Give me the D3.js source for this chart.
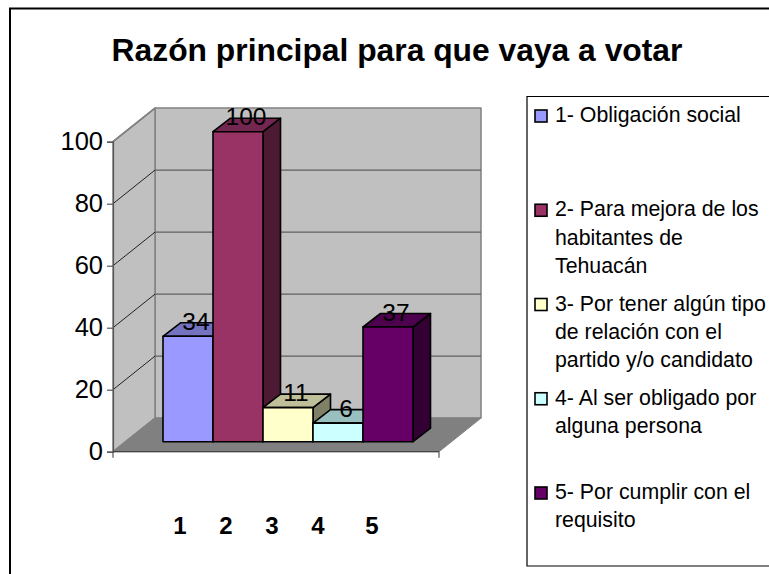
<!DOCTYPE html>
<html><head><meta charset="utf-8">
<script src="https://cdn.jsdelivr.net/npm/d3@7/dist/d3.min.js"></script>
<style>html,body{margin:0;padding:0;background:#fff;overflow:hidden}svg{display:block}text{font-family:"Liberation Sans",Arial,sans-serif;fill:#000}</style>
</head><body><svg id="c" width="769" height="574"></svg>
<script>
const titleText = "Razón principal para que vaya a votar";
const categories = ["1","2","3","4","5"];
const values = [34,100,11,6,37];
const yTicks = [0,20,40,60,80,100];
const legendLines = [
  ["1- Obligación social"],
  ["2- Para mejora de los","habitantes de","Tehuacán"],
  ["3- Por tener algún tipo","de relación con el","partido y/o candidato"],
  ["4- Al ser obligado por","alguna persona"],
  ["5- Por cumplir con el","requisito"]
];
const barColors = ["#9999ff","#993366","#ffffcc","#ccffff","#660066"];
const topColors = ["#7373bf","#732650","#bfbf99","#99bfbf","#4d004d"];
const sideColors = ["#4d4d80","#4d1a33","#808066","#668080","#330033"];

const svg = d3.select("#c");
// frame
svg.append("path").attr("d","M10,574V8.5H769").attr("fill","none").attr("stroke","#000").attr("stroke-width",2);
svg.append("text").attr("x",397).attr("y",60.5).attr("text-anchor","middle").attr("font-weight","bold").attr("font-size",31.8).text(titleText);

// 3D frame
const x0=113,x1=439,depthX=42,depthY=33.6;
const y=d3.scaleLinear().domain([0,100]).range([451.7,141.7]);
const bx=d3.scaleBand().domain(categories).range([163,413]).padding(0);
const barBase=441.7, barDX=17.5, barDY=13.5;
const barY=v=>barBase-(y(0)-y(v));

const poly=(pts,fill,stroke,sw)=>svg.append("polygon").attr("points",pts.map(p=>p.join(",")).join(" ")).attr("fill",fill).attr("stroke",stroke||"none").attr("stroke-width",sw||0).attr("stroke-linejoin","round");
// back wall, side wall, floor
poly([[x0+depthX,y(100)-depthY],[x1+depthX,y(100)-depthY],[x1+depthX,y(0)-depthY],[x0+depthX,y(0)-depthY]],"#c0c0c0","#808080",1.5);
poly([[x0,y(100)],[x0+depthX,y(100)-depthY],[x0+depthX,y(0)-depthY],[x0,y(0)]],"#c0c0c0","#808080",1.5);
poly([[x0,y(0)],[x0+depthX,y(0)-depthY],[x1+depthX,y(0)-depthY],[x1,y(0)]],"#808080","#808080",1);
// gridlines
const gt=yTicks.filter(t=>t>0);
svg.selectAll(".gb").data(gt.filter(t=>t<100)).join("line").attr("x1",x0+depthX).attr("x2",x1+depthX).attr("y1",d=>y(d)-depthY).attr("y2",d=>y(d)-depthY).attr("stroke","#606060").attr("stroke-width",1.4);
svg.selectAll(".gs").data(gt.filter(t=>t<100)).join("line").attr("x1",x0).attr("x2",x0+depthX).attr("y1",d=>y(d)).attr("y2",d=>y(d)-depthY).attr("stroke","#222").attr("stroke-width",1);
svg.append("line").attr("x1",x0).attr("x2",x0+depthX).attr("y1",y(100)).attr("y2",y(100)-depthY).attr("stroke","#808080").attr("stroke-width",1.5);
// axes
const yAxis=d3.axisLeft(y).tickValues(yTicks).tickSize(6).tickPadding(4);
const gy=svg.append("g").attr("transform",`translate(${x0},0)`).call(yAxis);
gy.selectAll("path,line").attr("stroke","#555").attr("stroke-width",1.2);
gy.selectAll("text").attr("font-size",25.5).attr("font-family",'"Liberation Sans"').attr("fill","#000");
svg.append("line").attr("x1",x0).attr("x2",x1).attr("y1",y(0)).attr("y2",y(0)).attr("stroke","#444").attr("stroke-width",1.2);
svg.selectAll(".t").data([x0,x1]).join("line").attr("x1",d=>d).attr("x2",d=>d).attr("y1",y(0)).attr("y2",y(0)+6).attr("stroke","#555").attr("stroke-width",1.2);

// bars
const data=categories.map((c,i)=>({c,v:values[i],i}));
const gb=svg.append("g");
data.forEach(d=>{
  const l=bx(d.c),r=l+bx.bandwidth(),t=barY(d.v);
  const g=gb.append("g").attr("stroke","#000").attr("stroke-width",1.6).attr("stroke-linejoin","round");
  const pg=(pts,f)=>g.append("polygon").attr("points",pts.map(p=>p.join(",")).join(" ")).attr("fill",f);
  pg([[r,t],[r+barDX,t-barDY],[r+barDX,barBase-barDY],[r,barBase]],sideColors[d.i]);
  pg([[l,t],[l+barDX,t-barDY],[r+barDX,t-barDY],[r,t]],topColors[d.i]);
  pg([[l,t],[r,t],[r,barBase],[l,barBase]],barColors[d.i]);
});
// value labels
svg.selectAll(".v").data(data).join("text").attr("text-anchor","middle").attr("font-size",24.5).attr("fill","#111")
  .attr("x",d=>bx(d.c)+bx.bandwidth()/2+8).attr("y",d=>barY(d.v)-6.5).text(d=>d.v);

// category labels
const catX=d3.scalePoint().domain(categories).range([180,364]);
const catNudge=[0,0,0,0,8];
svg.selectAll(".cat").data(data).join("text").attr("text-anchor","middle").attr("font-weight","bold").attr("font-size",24)
  .attr("x",d=>catX(d.c)+catNudge[d.i]).attr("y",534).text(d=>d.c);

// legend
svg.append("path").attr("d","M769,96.5H527V566H769").attr("fill","#fff").attr("stroke","#000").attr("stroke-width",1.2);
const ly=d3.scalePoint().domain(categories).range([116,493]);
data.forEach(d=>{
  const c=ly(d.c);
  svg.append("rect").attr("x",535).attr("y",c-6).attr("width",12).attr("height",12).attr("fill",barColors[d.i]).attr("stroke","#000").attr("stroke-width",1.6);
  legendLines[d.i].forEach((s,j)=>svg.append("text").attr("x",555).attr("y",c+6+j*28.3).attr("font-size",21.3).text(s));
});
</script></body></html>
